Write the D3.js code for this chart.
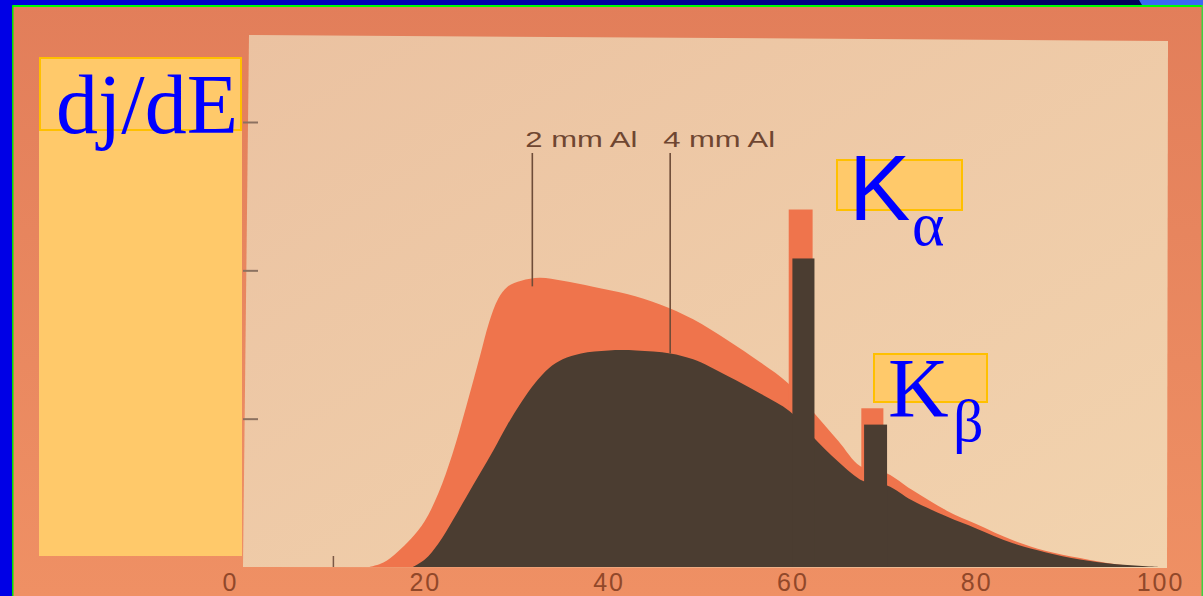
<!DOCTYPE html>
<html>
<head>
<meta charset="utf-8">
<script src="https://cdn.jsdelivr.net/npm/d3@7/dist/d3.min.js"></script>
<style>
  html, body { margin: 0; padding: 0; background: #e8875f; }
  svg { display: block; }
</style>
</head>
<body>
<svg id="chart" width="1203" height="596"></svg>
<script>
// Tube spectrum, continuum (keV, relative dj/dE) behind 2 mm Al filter
const energy2 = [14.0, 15.5, 17.0, 18.5, 20.0, 21.5, 23.0, 24.5, 26.0, 27.0, 28.0, 29.0, 30.5, 32.5, 35.0, 38.3, 42.0, 45.6, 49.2, 52.9, 56.5, 59.5, 62.2, 65.0, 67.4, 70.3, 73.0, 76.8, 80.0, 84.0, 87.5, 91.3, 95.0, 98.6, 100];
const value2  = [0.00, 0.03, 0.10, 0.19, 0.31, 0.50, 0.76, 1.08, 1.42, 1.65, 1.81, 1.89, 1.93, 1.95, 1.93, 1.89, 1.84, 1.77, 1.67, 1.53, 1.38, 1.24, 1.05, 0.85, 0.68, 0.63, 0.52, 0.38, 0.29, 0.18, 0.11, 0.06, 0.02, 0.00, 0.00];

// Continuum behind 4 mm Al filter
const energy4 = [18.7, 20.0, 21.5, 23.0, 24.5, 26.0, 27.5, 29.0, 30.5, 32.0, 33.5, 35.0, 37.0, 40.0, 43.0, 46.7, 49.2, 52.9, 56.5, 59.7, 62.2, 65.0, 67.7, 70.3, 73.0, 76.8, 80.0, 84.0, 87.5, 91.3, 95.0, 100];
const value4  = [0.00, 0.05, 0.16, 0.31, 0.47, 0.63, 0.79, 0.96, 1.11, 1.24, 1.34, 1.40, 1.44, 1.46, 1.46, 1.44, 1.40, 1.29, 1.17, 1.05, 0.88, 0.71, 0.58, 0.55, 0.45, 0.34, 0.26, 0.16, 0.10, 0.05, 0.02, 0.00];

// Characteristic K lines (energy band and peak height)
const kLabels = ["α", "β"];
const kStart2 = [59.6, 67.5], kEnd2 = [62.2, 69.9], kPeak2 = [2.41, 1.07];
const kStart4 = [60.0, 67.8], kEnd4 = [62.4, 70.3], kPeak4 = [2.08, 0.96];

// Axis ticks
const xTickValues = [0, 20, 40, 60, 80, 100];
const xMinorTicks = [10];
const yTickValues = [1, 2, 3];

// Filter annotations
const filterLabels = ["2 mm Al", "4 mm Al"];
const filterPointerE = [31.7, 46.7];

const svg = d3.select("#chart");
const W = 1203, H = 596;

const x = d3.scaleLinear().domain([0, 100]).range([241, 1160]);
const y = d3.scaleLinear().domain([0, 3]).range([567, 122]);

const defs = svg.append("defs");
const bgGrad = defs.append("linearGradient").attr("id", "bgGrad")
  .attr("x1", 0).attr("y1", 0).attr("x2", 0).attr("y2", 1);
bgGrad.append("stop").attr("offset", "0%").attr("stop-color", "#e27e5a");
bgGrad.append("stop").attr("offset", "100%").attr("stop-color", "#ef9064");

const panelGrad = defs.append("linearGradient").attr("id", "panelGrad")
  .attr("x1", 0).attr("y1", 0).attr("x2", 1).attr("y2", 1);
panelGrad.append("stop").attr("offset", "0%").attr("stop-color", "#ebc2a1");
panelGrad.append("stop").attr("offset", "100%").attr("stop-color", "#f2d3ae");

const topGrad = defs.append("linearGradient").attr("id", "topGrad")
  .attr("x1", 0).attr("y1", 0).attr("x2", 1).attr("y2", 0);
topGrad.append("stop").attr("offset", "0%").attr("stop-color", "#0000e0");
topGrad.append("stop").attr("offset", "50%").attr("stop-color", "#0000a0");
topGrad.append("stop").attr("offset", "95%").attr("stop-color", "#000058");

// Slide background
svg.append("rect").attr("x", 0).attr("y", 0).attr("width", W).attr("height", H)
  .attr("fill", "url(#bgGrad)");

// Plot panel
svg.append("path")
  .attr("d", "M249,35 L1168,41 L1167,568 L243,567 Z")
  .attr("fill", "url(#panelGrad)");

// Continuum areas
const area = d3.area()
  .x(d => x(d[0]))
  .y0(y(0))
  .y1(d => y(Math.max(0, d[1])))
  .curve(d3.curveCatmullRom.alpha(0.5));

const orange = "#ef744c", dark = "#4b3d31";

svg.append("path")
  .datum(energy2.map((e, i) => [e, value2[i]]))
  .attr("d", area)
  .attr("fill", orange);

svg.selectAll("rect.k2").data(kLabels).join("rect")
  .attr("class", "k2")
  .attr("x", (d, i) => x(kStart2[i]))
  .attr("width", (d, i) => x(kEnd2[i]) - x(kStart2[i]))
  .attr("y", (d, i) => y(kPeak2[i]))
  .attr("height", (d, i) => y(0) - y(kPeak2[i]))
  .attr("fill", orange);

svg.append("path")
  .datum(energy4.map((e, i) => [e, value4[i]]))
  .attr("d", area)
  .attr("fill", dark);

svg.selectAll("rect.k4").data(kLabels).join("rect")
  .attr("class", "k4")
  .attr("x", (d, i) => x(kStart4[i]))
  .attr("width", (d, i) => x(kEnd4[i]) - x(kStart4[i]))
  .attr("y", (d, i) => y(kPeak4[i]))
  .attr("height", (d, i) => y(0) - y(kPeak4[i]))
  .attr("fill", dark);

// Axes
const labelColor = "#91482a";
const xAxis = svg.append("g")
  .attr("transform", `translate(0,${y(0)})`)
  .call(d3.axisBottom(x).tickValues(xTickValues).tickSize(0).tickPadding(6));
xAxis.select(".domain").remove();
xAxis.selectAll("text")
  .attr("fill", labelColor)
  .style("font-family", "'Liberation Sans', Arial, sans-serif")
  .style("font-size", "25px")
  .style("letter-spacing", "2px");
xAxis.selectAll("text").filter(d => d === 0).attr("dx", -11);

const xMinor = svg.append("g")
  .attr("transform", `translate(0,${y(0)})`)
  .call(d3.axisBottom(x).tickValues(xMinorTicks).tickSize(-11).tickFormat(""));
xMinor.select(".domain").remove();
xMinor.selectAll("line").attr("stroke", "#7a5845").attr("stroke-width", 1.5);

const yAxis = svg.append("g")
  .attr("transform", "translate(243,0)")
  .call(d3.axisRight(y).tickValues(yTickValues).tickSize(15).tickFormat(""));
yAxis.select(".domain").remove();
yAxis.selectAll("line").attr("stroke", "#8c7160").attr("stroke-width", 2);

// Filter pointers
function valueAt(es, vs, e) {
  const i = d3.bisectLeft(es, e);
  if (i <= 0) return vs[0];
  if (i >= es.length) return vs[vs.length - 1];
  const t = (e - es[i - 1]) / (es[i] - es[i - 1]);
  return vs[i - 1] + t * (vs[i] - vs[i - 1]);
}
const pointerEnd = [valueAt(energy2, value2, filterPointerE[0]) - 0.05,
                    valueAt(energy4, value4, filterPointerE[1])];

svg.selectAll("line.pointer").data(filterLabels).join("line")
  .attr("class", "pointer")
  .attr("x1", (d, i) => x(filterPointerE[i]))
  .attr("x2", (d, i) => x(filterPointerE[i]))
  .attr("y1", 153)
  .attr("y2", (d, i) => y(pointerEnd[i]))
  .attr("stroke", "#6e4c38")
  .attr("stroke-width", 1.6);

svg.selectAll("text.filter").data(filterLabels).join("text")
  .attr("class", "filter")
  .attr("x", (d, i) => x(filterPointerE[i]) - 7)
  .attr("y", 147)
  .attr("textLength", 112)
  .attr("lengthAdjust", "spacingAndGlyphs")
  .attr("fill", "#6f4631")
  .style("font-family", "'Liberation Sans', Arial, sans-serif")
  .style("font-size", "22px")
  .text(d => d);

// Highlight boxes and labels
const boxFill = "#ffc96a", boxStroke = "#ffc000", blue = "#0000ff";
svg.append("rect").attr("x", 39).attr("y", 57).attr("width", 203).attr("height", 499)
  .attr("fill", boxFill);
svg.append("rect").attr("x", 40).attr("y", 58).attr("width", 201).attr("height", 72)
  .attr("fill", "none").attr("stroke", boxStroke).attr("stroke-width", 2);
svg.append("text").attr("x", 56).attr("y", 133)
  .attr("fill", blue)
  .style("font-family", "'Liberation Serif', 'Times New Roman', serif")
  .style("font-size", "84px")
  .text("dj/dE");

svg.append("rect").attr("x", 837).attr("y", 160).attr("width", 125).attr("height", 50)
  .attr("fill", boxFill).attr("stroke", boxStroke).attr("stroke-width", 2);
svg.append("text").attr("x", 849).attr("y", 220)
  .attr("fill", blue)
  .style("font-family", "'Liberation Sans', Arial, sans-serif")
  .style("font-size", "92px")
  .text("K");
svg.append("text").attr("x", 912).attr("y", 245)
  .attr("fill", blue)
  .style("font-family", "'Liberation Serif', 'Times New Roman', serif")
  .style("font-size", "62px")
  .text(kLabels[0]);

svg.append("rect").attr("x", 874).attr("y", 354).attr("width", 113).attr("height", 48)
  .attr("fill", boxFill).attr("stroke", boxStroke).attr("stroke-width", 2);
svg.append("text").attr("x", 888).attr("y", 417)
  .attr("fill", blue)
  .style("font-family", "'Liberation Serif', 'Times New Roman', serif")
  .style("font-size", "84px")
  .text("K");
svg.append("text").attr("x", 953).attr("y", 441)
  .attr("fill", blue)
  .style("font-family", "'Liberation Serif', 'Times New Roman', serif")
  .style("font-size", "60px")
  .text(kLabels[1]);

// Slide frame
svg.append("rect").attr("x", 0).attr("y", 0).attr("width", W).attr("height", 5)
  .attr("fill", "url(#topGrad)");
svg.append("path").attr("d", "M1139,0 L1203,0 L1203,5 L1142,5 Z").attr("fill", "#3a68f4");
svg.append("rect").attr("x", 0).attr("y", 0).attr("width", 12).attr("height", H)
  .attr("fill", "#0000e6");
svg.append("rect").attr("x", 12).attr("y", 5).attr("width", W - 12).attr("height", 2)
  .attr("fill", "#00ff00");
svg.append("rect").attr("x", 12).attr("y", 5).attr("width", 1.5).attr("height", H - 5)
  .attr("fill", "#00e000");
svg.append("rect").attr("x", 1201.5).attr("y", 5).attr("width", 1.5).attr("height", H - 5)
  .attr("fill", "#40d040");
</script>
</body>
</html>
